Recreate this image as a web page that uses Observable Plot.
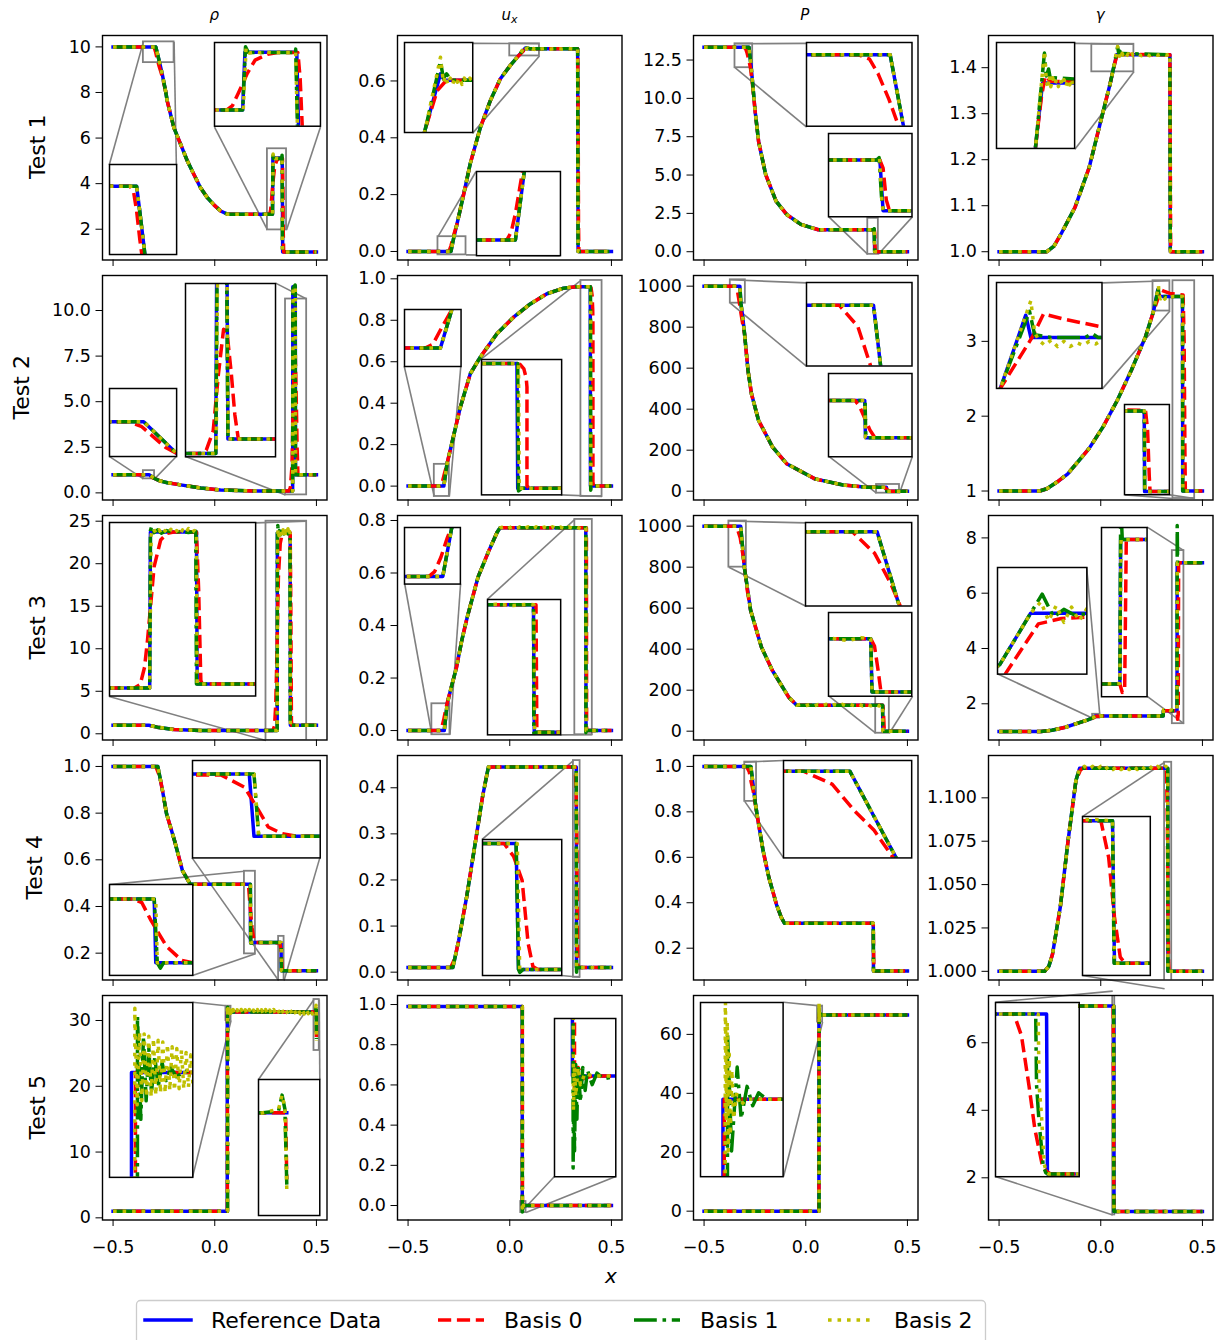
<!DOCTYPE html>
<html><head><meta charset="utf-8">
<script src="https://cdn.jsdelivr.net/npm/d3@7"></script>
<script src="https://cdn.jsdelivr.net/npm/@observablehq/plot@0.6"></script>
<style>
body{margin:0;background:#fff;}
#fig{position:relative;width:1231px;height:1340px;overflow:hidden;background:#fff;font-family:"DejaVu Sans";}
#fig svg{position:absolute;}
</style></head><body><div id="fig"></div>
<script>
// ---------------- DATA (x, value) ----------------
const seriesNames = ["Reference Data","Basis 0","Basis 1","Basis 2"];
const colTitles = ["ρ","u","P","γ"];
const rowTitles = ["Test 1","Test 2","Test 3","Test 4","Test 5"];
const xTicks = [-0.5, 0, 0.5];

// Test 1
const t1_rho_head = [[-0.5,10],[-0.29,10],[-0.283,9.75],[-0.275,9.45],[-0.258,8.8]];
const t1_rho_fan = [[-0.242,8.07],[-0.233,7.6],[-0.201,6.46],[-0.168,5.73],[-0.135,5.0],[-0.103,4.41],[-0.07,3.82],[-0.037,3.39],[-0.004,3.07],[0.029,2.8],[0.062,2.66]];
const t1_rho_ref = [...t1_rho_head, ...t1_rho_fan, [0.284,2.66],[0.286,5.12],[0.332,5.12],[0.334,1],[0.5,1]];
const t1_rho_b0 = [[-0.5,10],[-0.305,10],[-0.297,9.95],[-0.29,9.75],[-0.283,9.47],[-0.275,9.2],[-0.258,8.7], ...t1_rho_fan, [0.27,2.66],[0.275,2.85],[0.28,3.36],[0.288,4.21],[0.295,4.78],[0.306,5.03],[0.315,5.1],[0.333,5.1],[0.335,4.0],[0.337,1.8],[0.339,1],[0.5,1]];
const t1_rho_b1 = [...t1_rho_head, ...t1_rho_fan, [0.284,2.66],[0.2865,5.35],[0.289,5.1],[0.33,5.1],[0.331,5.25],[0.333,1],[0.5,1]];
const t1_rho_b2 = [...t1_rho_head, ...t1_rho_fan, [0.2845,2.66],[0.287,5.3],[0.29,5.08],[0.295,5.13],[0.3,5.09],[0.305,5.12],[0.31,5.1],[0.331,5.1],[0.333,1],[0.5,1]];

const t1_ux_head = [[-0.5,0],[-0.289,0],[-0.275,0.05]];
const t1_ux_fan = [[-0.26,0.095],[-0.227,0.2],[-0.194,0.31],[-0.145,0.435],[-0.096,0.53],[-0.046,0.608],[0.003,0.655],[0.045,0.69]];
const t1_ux_ref = [...t1_ux_head, ...t1_ux_fan, [0.077,0.716],[0.085,0.713],[0.334,0.713],[0.336,0],[0.5,0]];
const t1_ux_b0 = [[-0.5,0],[-0.303,0],[-0.296,0.006],[-0.289,0.02],[-0.281,0.042],[-0.273,0.064], ...t1_ux_fan, [0.07,0.708],[0.09,0.713],[0.334,0.713],[0.336,0.6],[0.338,0.1],[0.34,0],[0.5,0]];
const t1_ux_b1 = [...t1_ux_head, ...t1_ux_fan, [0.077,0.722],[0.083,0.714],[0.09,0.716],[0.1,0.713],[0.334,0.713],[0.336,0],[0.5,0]];
const t1_ux_b2 = [...t1_ux_head, ...t1_ux_fan, [0.077,0.724],[0.083,0.712],[0.088,0.715],[0.093,0.711],[0.098,0.714],[0.103,0.711],[0.108,0.714],[0.113,0.712],[0.118,0.714],[0.123,0.711],[0.128,0.714],[0.133,0.712],[0.14,0.714],[0.146,0.712],[0.17,0.714],[0.2,0.712],[0.23,0.714],[0.26,0.712],[0.29,0.714],[0.32,0.712],[0.334,0.713],[0.336,0],[0.5,0]];

const t1_P_head = [[-0.5,13.33],[-0.279,13.33],[-0.268,12.0]];
const t1_P_fan = [[-0.249,9.17],[-0.232,7.2],[-0.197,5.03],[-0.146,3.3],[-0.094,2.43],[-0.024,1.78],[0.062,1.43]];
const t1_P_ref = [...t1_P_head, ...t1_P_fan, [0.337,1.43],[0.339,0],[0.5,0]];
const t1_P_b0 = [[-0.5,13.33],[-0.305,13.33],[-0.296,13.25],[-0.289,12.98],[-0.28,12.5],[-0.272,12.0],[-0.262,10.9], ...t1_P_fan, [0.337,1.43],[0.339,1.2],[0.341,0.3],[0.343,0],[0.5,0]];
const t1_P_b1 = [...t1_P_head, ...t1_P_fan, [0.335,1.43],[0.3365,1.5],[0.338,0.4],[0.339,0],[0.5,0]];
const t1_P_b2 = [...t1_P_head, ...t1_P_fan, [0.335,1.43],[0.3368,1.48],[0.3382,0.3],[0.339,0],[0.5,0]];

const t1_g_head = [[-0.5,1],[-0.265,1]];
const t1_g_fan = [[-0.23,1.012],[-0.196,1.038],[-0.127,1.096],[-0.057,1.183],[0.012,1.305],[0.046,1.365],[0.06,1.393]];
const t1_g_ref = [...t1_g_head, ...t1_g_fan, [0.078,1.428],[0.34,1.428],[0.342,1],[0.5,1]];
const t1_g_b0 = [...t1_g_head, ...t1_g_fan, [0.075,1.42],[0.085,1.432],[0.1,1.429],[0.34,1.428],[0.342,1.2],[0.344,1],[0.5,1]];
const t1_g_b1 = [...t1_g_head, ...t1_g_fan, [0.083,1.445],[0.088,1.432],[0.094,1.436],[0.1,1.429],[0.11,1.431],[0.34,1.428],[0.342,1],[0.5,1]];
const t1_g_b2 = [...t1_g_head, ...t1_g_fan, [0.083,1.446],[0.088,1.43],[0.092,1.425],[0.096,1.432],[0.1,1.426],[0.105,1.431],[0.11,1.427],[0.115,1.43],[0.12,1.426],[0.125,1.43],[0.13,1.427],[0.135,1.43],[0.14,1.426],[0.145,1.43],[0.15,1.427],[0.155,1.43],[0.16,1.426],[0.18,1.43],[0.2,1.426],[0.22,1.43],[0.24,1.426],[0.26,1.43],[0.28,1.427],[0.3,1.43],[0.32,1.427],[0.34,1.43],[0.342,1],[0.5,1]];

// Test 2
const t2_rho_head = [[-0.5,1],[-0.323,1]];
const t2_rho_fan = [[-0.296,0.79],[-0.27,0.66],[-0.233,0.56],[-0.168,0.44],[-0.07,0.27],[0.028,0.16],[0.193,0.1],[0.357,0.1]];
const t2_rho_ref = [...t2_rho_head, ...t2_rho_fan, [0.383,0.1],[0.384,11.3],[0.396,11.3],[0.397,1],[0.5,1]];
const t2_rho_b0 = [[-0.5,1],[-0.335,1],[-0.325,0.97],[-0.315,0.9],[-0.305,0.83], ...t2_rho_fan, [0.365,0.1],[0.372,0.3],[0.38,1.5],[0.386,5],[0.392,7.8],[0.396,7.6],[0.401,5],[0.405,2.5],[0.409,1],[0.5,1]];
const t2_rho_b1 = [...t2_rho_head, ...t2_rho_fan, [0.383,0.1],[0.3845,11.2],[0.3955,11.4],[0.397,1],[0.5,1]];
const t2_rho_b2 = [...t2_rho_head, ...t2_rho_fan, [0.3835,0.1],[0.385,11.3],[0.396,11.25],[0.3975,1],[0.5,1]];

const t2_ux_head = [[-0.5,0],[-0.324,0]];
const t2_ux_fan = [[-0.309,0.105],[-0.284,0.21],[-0.243,0.381],[-0.194,0.542],[-0.145,0.622],[-0.063,0.735],[0.019,0.815],[0.101,0.879],[0.183,0.928],[0.265,0.955],[0.33,0.962]];
const t2_ux_ref = [...t2_ux_head, ...t2_ux_fan, [0.396,0.962],[0.397,0],[0.5,0]];
const t2_ux_b0 = [[-0.5,0],[-0.344,0],[-0.334,0.01],[-0.322,0.057], ...t2_ux_fan, [0.396,0.962],[0.4,0.955],[0.405,0.92],[0.408,0.85],[0.409,0.78],[0.409,0.02],[0.412,0],[0.5,0]];
const t2_ux_b1 = [...t2_ux_head, ...t2_ux_fan, [0.397,0.962],[0.398,-0.02],[0.402,0],[0.5,0]];
const t2_ux_b2 = [...t2_ux_head, ...t2_ux_fan, [0.398,0.962],[0.399,0],[0.5,0]];

const t2_P_head = [[-0.5,1000],[-0.324,1000],[-0.319,917],[-0.31,850]];
const t2_P_fan = [[-0.301,768],[-0.284,589],[-0.267,475],[-0.232,345],[-0.163,215],[-0.094,134],[0.045,60],[0.184,30],[0.3,19]];
const t2_P_ref = [...t2_P_head, ...t2_P_fan, [0.397,19],[0.398,0.01],[0.5,0.01]];
const t2_P_b0 = [[-0.5,1000],[-0.348,1000],[-0.335,971],[-0.326,917],[-0.317,858],[-0.309,810], ...t2_P_fan, [0.384,19],[0.39,16],[0.397,10],[0.404,4],[0.41,0.5],[0.415,0.01],[0.5,0.01]];
const t2_P_b1 = [...t2_P_head, ...t2_P_fan, [0.3975,19],[0.3985,0.01],[0.5,0.01]];
const t2_P_b2 = [...t2_P_head, ...t2_P_fan, [0.397,19],[0.398,0.01],[0.5,0.01]];

const t2_g_head = [[-0.5,1],[-0.3,1]];
const t2_g_fan = [[-0.265,1.03],[-0.215,1.12],[-0.162,1.23],[-0.057,1.57],[0.012,1.86],[0.081,2.21],[0.15,2.61],[0.22,3.06],[0.26,3.405]];
const t2_g_ref = [...t2_g_head, ...t2_g_fan, [0.28,3.685],[0.284,3.6],[0.402,3.6],[0.403,1],[0.5,1]];
const t2_g_b0 = [...t2_g_head, ...t2_g_fan, [0.285,3.6],[0.294,3.69],[0.31,3.67],[0.34,3.64],[0.405,3.62],[0.41,3.0],[0.414,1.5],[0.416,1],[0.5,1]];
const t2_g_b1 = [...t2_g_head, ...t2_g_fan, [0.283,3.7],[0.287,3.61],[0.3,3.6],[0.327,3.6],[0.332,3.615],[0.337,3.6],[0.402,3.6],[0.403,1],[0.5,1]];
const t2_g_b2 = [...t2_g_head, ...t2_g_fan, [0.284,3.74],[0.287,3.62],[0.29,3.59],[0.295,3.57],[0.3,3.59],[0.305,3.565],[0.31,3.585],[0.315,3.565],[0.32,3.58],[0.325,3.57],[0.33,3.585],[0.335,3.575],[0.34,3.59],[0.36,3.6],[0.403,3.6],[0.404,1],[0.5,1]];

// Test 3
const t3_rho_head = [[-0.5,1],[-0.324,1]];
const t3_rho_fan = [[-0.283,0.78],[-0.2,0.5],[-0.07,0.4]];
const t3_rho_ref = [...t3_rho_head, ...t3_rho_fan, [0.307,0.4],[0.308,23.6],[0.371,23.6],[0.372,1],[0.5,1]];
const t3_rho_b0 = [...t3_rho_head, ...t3_rho_fan, [0.286,0.4],[0.294,0.9],[0.3,3.5],[0.304,7.5],[0.309,13.5],[0.313,18.4],[0.322,22.4],[0.331,23.4],[0.34,23.6],[0.371,23.6],[0.374,15],[0.377,1.5],[0.379,1],[0.5,1]];
const t3_rho_b1 = [...t3_rho_head, ...t3_rho_fan, [0.307,0.4],[0.308,23.8],[0.31,24.5],[0.313,23.5],[0.318,23.9],[0.323,23.4],[0.33,23.8],[0.34,23.5],[0.35,23.7],[0.36,23.5],[0.37,23.7],[0.371,1],[0.5,1]];
const t3_rho_b2 = [...t3_rho_head, ...t3_rho_fan, [0.307,0.4],[0.309,23.2],[0.312,24.1],[0.316,23.3],[0.32,23.9],[0.324,23.2],[0.328,23.8],[0.332,23.3],[0.336,24.0],[0.34,23.4],[0.344,23.8],[0.348,23.2],[0.352,23.9],[0.356,23.4],[0.36,24.1],[0.364,23.5],[0.368,23.8],[0.371,23.5],[0.372,1],[0.5,1]];

const t3_ux_head = [[-0.5,0],[-0.322,0],[-0.308,0.1]];
const t3_ux_fan = [[-0.289,0.16],[-0.262,0.24],[-0.236,0.343],[-0.209,0.432],[-0.156,0.584],[-0.102,0.686],[-0.062,0.755],[-0.048,0.772]];
const t3_ux_ref = [...t3_ux_head, ...t3_ux_fan, [0.374,0.772],[0.375,0],[0.5,0]];
const t3_ux_b0 = [[-0.5,0],[-0.344,0],[-0.335,0.01],[-0.325,0.04],[-0.315,0.08],[-0.303,0.12], ...t3_ux_fan, [0.377,0.772],[0.378,0],[0.5,0]];
const t3_ux_b1 = [...t3_ux_head, ...t3_ux_fan, [0.374,0.772],[0.3745,-0.008],[0.377,0],[0.5,0]];
const t3_ux_b2 = [...t3_ux_head, ...t3_ux_fan, [-0.03,0.776],[-0.01,0.769],[0.01,0.776],[0.03,0.768],[0.05,0.776],[0.07,0.769],[0.09,0.776],[0.11,0.768],[0.13,0.776],[0.15,0.769],[0.17,0.775],[0.19,0.768],[0.21,0.776],[0.23,0.769],[0.25,0.775],[0.27,0.768],[0.29,0.776],[0.31,0.769],[0.33,0.775],[0.35,0.768],[0.37,0.775],[0.3745,0.772],[0.3755,0],[0.5,0]];

const t3_P_head = [[-0.5,1000],[-0.32,1000],[-0.302,800]];
const t3_P_fan = [[-0.271,589],[-0.218,410],[-0.164,296],[-0.084,166],[-0.044,127]];
const t3_P_ref = [...t3_P_head, ...t3_P_fan, [0.378,127],[0.379,0],[0.5,0]];
const t3_P_b0 = [[-0.5,1000],[-0.34,1000],[-0.322,942],[-0.309,861],[-0.3,790],[-0.288,690], ...t3_P_fan, [0.378,127],[0.381,110],[0.384,50],[0.386,5],[0.388,0],[0.5,0]];
const t3_P_b1 = [...t3_P_head, ...t3_P_fan, [0.378,127],[0.379,0],[0.5,0]];
const t3_P_b2 = [...t3_P_head, ...t3_P_fan, [-0.02,131],[0.0,124],[0.02,131],[0.04,123],[0.06,130],[0.08,124],[0.1,131],[0.12,123],[0.14,130],[0.16,124],[0.18,131],[0.2,123],[0.22,130],[0.24,124],[0.26,131],[0.28,123],[0.3,130],[0.32,124],[0.34,131],[0.36,123],[0.37,130],[0.378,127],[0.379,0],[0.5,0]];

const t3_g_head = [[-0.5,1],[-0.294,1]];
const t3_g_fan = [[-0.24,1.04],[-0.174,1.15],[-0.12,1.28],[-0.067,1.41]];
const t3_g_ref = [...t3_g_head, ...t3_g_fan, [-0.039,1.493],[-0.027,1.56],[0.307,1.56],[0.308,1.75],[0.375,1.75],[0.376,7.1],[0.5,7.1]];
const t3_g_b0 = [...t3_g_head, ...t3_g_fan, [-0.037,1.48],[-0.024,1.546],[-0.015,1.553],[0.0,1.556],[0.02,1.558],[0.307,1.56],[0.31,1.75],[0.375,1.75],[0.378,1.44],[0.381,1.6],[0.383,7.1],[0.5,7.1]];
const t3_g_b1 = [...t3_g_head, ...t3_g_fan, [-0.039,1.493],[-0.027,1.56],[-0.0225,1.585],[-0.018,1.555],[-0.014,1.565],[-0.01,1.558],[0.0,1.56],[0.307,1.56],[0.308,1.75],[0.375,1.75],[0.376,8.45],[0.378,7.1],[0.5,7.1]];
const t3_g_b2 = [...t3_g_head, ...t3_g_fan, [-0.039,1.493],[-0.027,1.56],[-0.023,1.575],[-0.02,1.55],[-0.017,1.57],[-0.014,1.548],[-0.011,1.568],[-0.008,1.55],[-0.005,1.566],[0.0,1.555],[0.307,1.56],[0.3085,1.78],[0.32,1.76],[0.33,1.79],[0.34,1.76],[0.35,1.78],[0.36,1.76],[0.375,1.77],[0.3765,7.1],[0.5,7.1]];

// Test 4
const t4_rho_head = [[-0.5,1],[-0.28,1]];
const t4_rho_fan = [[-0.257,0.897],[-0.237,0.797],[-0.198,0.683],[-0.159,0.554],[-0.12,0.495]];
const t4_rho_ref = [...t4_rho_head, ...t4_rho_fan, [0.175,0.495],[0.176,0.246],[0.326,0.246],[0.327,0.125],[0.5,0.125]];
const t4_rho_b0 = [[-0.5,1],[-0.29,1],[-0.27,0.955], ...t4_rho_fan, [0.161,0.495],[0.167,0.48],[0.173,0.41],[0.183,0.31],[0.193,0.255],[0.2,0.246],[0.32,0.244],[0.325,0.22],[0.328,0.175],[0.33,0.143],[0.333,0.13],[0.336,0.125],[0.5,0.125]];
const t4_rho_b1 = [...t4_rho_head, ...t4_rho_fan, [0.175,0.495],[0.177,0.246],[0.179,0.225],[0.181,0.246],[0.327,0.246],[0.328,0.125],[0.5,0.125]];
const t4_rho_b2 = [...t4_rho_head, ...t4_rho_fan, [0.176,0.495],[0.177,0.246],[0.327,0.246],[0.328,0.125],[0.5,0.125]];

const t4_ux_head = [[-0.5,0.01],[-0.28,0.01]];
const t4_ux_fan = [[-0.251,0.069],[-0.212,0.163],[-0.173,0.271],[-0.134,0.38]];
const t4_ux_ref = [...t4_ux_head, ...t4_ux_fan, [-0.105,0.445],[0.327,0.445],[0.328,0.01],[0.5,0.01]];
const t4_ux_b0 = [[-0.5,0.01],[-0.29,0.01],[-0.27,0.03], ...t4_ux_fan, [-0.11,0.435],[-0.095,0.445],[0.322,0.445],[0.326,0.4],[0.3295,0.318],[0.332,0.1],[0.334,0.02],[0.336,0.01],[0.5,0.01]];
const t4_ux_b1 = [...t4_ux_head, ...t4_ux_fan, [-0.105,0.445],[0.327,0.445],[0.328,0.01],[0.3285,0.0],[0.33,0.01],[0.5,0.01]];
const t4_ux_b2 = [...t4_ux_head, ...t4_ux_fan, [-0.105,0.445],[0.3275,0.445],[0.3285,0.01],[0.5,0.01]];

const t4_P_head = [[-0.5,1],[-0.27,1],[-0.258,0.912],[-0.249,0.846]];
const t4_P_fan = [[-0.238,0.78],[-0.21,0.63],[-0.181,0.51],[-0.143,0.39],[-0.12,0.335],[-0.105,0.31]];
const t4_P_ref = [...t4_P_head, ...t4_P_fan, [0.332,0.31],[0.333,0.1],[0.5,0.1]];
const t4_P_b0 = [[-0.5,1],[-0.291,1],[-0.278,0.977],[-0.268,0.93],[-0.259,0.895],[-0.251,0.85], ...t4_P_fan, [0.332,0.31],[0.3335,0.2],[0.335,0.1],[0.5,0.1]];
const t4_P_b1 = [...t4_P_head, ...t4_P_fan, [0.332,0.31],[0.333,0.1],[0.5,0.1]];
const t4_P_b2 = [...t4_P_head, ...t4_P_fan, [0.3322,0.31],[0.3332,0.1],[0.5,0.1]];

const t4_g_head = [[-0.5,1],[-0.276,1]];
const t4_g_fan = [[-0.255,1.003],[-0.237,1.01],[-0.199,1.037],[-0.161,1.075],[-0.122,1.11]];
const t4_g_ref = [...t4_g_head, ...t4_g_fan, [-0.104,1.117],[0.3295,1.117],[0.3305,1],[0.5,1]];
const t4_g_b0 = [...t4_g_head, ...t4_g_fan, [-0.1,1.116],[-0.09,1.117],[0.3235,1.117],[0.3275,1.087],[0.3305,1.038],[0.3335,1.005],[0.336,1],[0.5,1]];
const t4_g_b1 = [...t4_g_head, ...t4_g_fan, [-0.104,1.117],[0.3295,1.117],[0.3303,1],[0.5,1]];
const t4_g_b2 = [...t4_g_head, ...t4_g_fan, [-0.104,1.117],[-0.08,1.1182],[-0.06,1.1163],[-0.04,1.1182],[-0.02,1.1163],[0.0,1.1182],[0.02,1.1163],[0.04,1.1182],[0.06,1.1163],[0.08,1.1182],[0.1,1.1163],[0.12,1.1182],[0.14,1.1163],[0.16,1.1182],[0.18,1.1163],[0.2,1.1182],[0.22,1.1163],[0.24,1.1182],[0.26,1.1163],[0.28,1.1182],[0.3,1.1163],[0.32,1.1182],[0.3295,1.117],[0.3305,1],[0.5,1]];

// Test 5
const t5_rho_ref = [[-0.5,1],[0.0615,1],[0.0616,31.3],[0.5,31.3]];
const t5_rho_b0 = [[-0.5,1],[0.0622,1],[0.0628,31.3],[0.4995,31.3],[0.5,27.5]];
const t5_rho_b1 = [[-0.5,1],[0.0632,1],[0.0634,32.0],[0.0644,30.72],[0.0652,31.75],[0.066,30.95],[0.0668,31.6],[0.0676,31.05],[0.0686,31.5],[0.0696,31.12],[0.0708,31.42],[0.072,31.2],[0.0735,31.36],[0.075,31.25],[0.078,31.32],[0.08,31.3],[0.49,31.3],[0.4965,31.4],[0.498,32.3],[0.4992,31.5],[0.5,27.2]];
const t5_rho_b2 = [[-0.5,1],[0.0624,1],[0.0626,32.1],[0.0633,30.9],[0.064,31.8],[0.0647,30.95],[0.0654,31.78],[0.0661,31.0],[0.0668,31.75],[0.0675,31.0],[0.0682,31.72],[0.0689,31.02],[0.0696,31.7],[0.0703,31.05],[0.071,31.68],[0.0717,31.05],[0.0724,31.65],[0.0731,31.08],[0.0738,31.62],[0.0745,31.08],[0.0752,31.6],[0.0759,31.1],[0.0766,31.58],[0.0773,31.1],[0.078,31.55],[0.0787,31.12],[0.0794,31.52],[0.0801,31.12],
  [0.09,31.66],[0.1,31.0],[0.11,31.64],[0.12,30.98],[0.13,31.68],[0.14,31.0],[0.15,31.62],[0.16,30.97],[0.17,31.66],[0.18,31.02],[0.19,31.6],[0.2,30.98],[0.21,31.65],[0.22,31.0],[0.23,31.63],[0.24,30.97],[0.25,31.66],[0.26,31.01],[0.27,31.6],[0.28,30.99],[0.29,31.66],[0.3,31.02],[0.31,31.62],[0.32,30.98],[0.33,31.64],[0.34,31.0],[0.35,31.6],[0.36,30.97],[0.37,31.66],[0.38,31.02],[0.39,31.62],[0.4,30.99],[0.41,31.64],[0.42,31.01],[0.43,31.6],[0.44,30.98],[0.45,31.65],[0.46,31.02],[0.47,31.62],[0.48,31.0],[0.49,31.3],[0.4965,31.5],[0.498,32.3],[0.4992,31.6],[0.5,26.9]];

const t5_ux_ref = [[-0.5,0.99],[0.0615,0.99],[0.0616,0],[0.5,0]];
const t5_ux_b0 = [[-0.5,0.99],[0.062,0.99],[0.0625,-0.004],[0.064,0.003],[0.066,-0.001],[0.07,0],[0.5,0]];
const t5_ux_b1 = [[-0.5,0.99],[0.0617,0.99],[0.0619,-0.032],[0.0622,-0.005],[0.0625,-0.026],[0.063,0.004],[0.0635,-0.015],[0.064,0.004],[0.065,-0.009],[0.066,0.003],[0.067,-0.005],[0.068,0.002],[0.07,-0.003],[0.072,0.001],[0.075,-0.001],[0.08,0],[0.5,0]];
const t5_ux_b2 = [[-0.5,0.99],[0.0618,0.99],[0.062,-0.012],[0.0625,0.003],[0.063,-0.007],[0.064,0.003],[0.065,-0.003],[0.067,0.001],[0.07,0],[0.5,0]];

const t5_P_ref = [[-0.5,0],[0.0647,0],[0.0648,66.6],[0.5,66.6]];
const t5_P_b0 = [[-0.5,0],[0.065,0],[0.0652,66.6],[0.5,66.6]];
const t5_P_b1 = [[-0.5,0],[0.0655,0],[0.0662,68.6],[0.0674,65.0],[0.0691,67.6],[0.0703,66.0],[0.0721,67.0],[0.0738,66.4],[0.0756,66.8],[0.078,66.6],[0.5,66.6]];
const t5_P_b2 = [[-0.5,0],[0.0652,0],[0.0655,70.5],[0.0658,66.0],[0.0661,69.0],[0.0664,65.0],[0.0667,68.0],[0.067,65.5],[0.0675,67.5],[0.068,66.0],[0.069,66.8],[0.07,66.4],[0.072,66.6],[0.5,66.6]];

const t5_g_ref = [[-0.5,7.09],[0.065,7.09],[0.0651,1],[0.5,1]];
const t5_g_b0 = [[-0.5,7.09],[0.0611,7.09],[0.062,6.27],[0.0629,4.36],[0.0636,2.71],[0.0645,1.32],[0.065,1.1],[0.0655,1],[0.5,1]];
const t5_g_b1 = [[-0.5,7.09],[0.0637,7.09],[0.0638,4.4],[0.0641,3.0],[0.0646,1.32],[0.0649,1.05],[0.0652,1],[0.5,1]];
const t5_g_b2 = [[-0.5,7.09],[0.064,7.09],[0.0641,4.4],[0.0644,3.2],[0.0647,1.4],[0.065,1.05],[0.0653,1],[0.5,1]];

// y tick labels per panel
const t1_ticks = [[2,4,6,8,10],[0,0.2,0.4,0.6],[0,2.5,5,7.5,10,12.5],[1,1.1,1.2,1.3,1.4]];
const t2_ticks = [[0,2.5,5,7.5,10],[0,0.2,0.4,0.6,0.8,1],[0,200,400,600,800,1000],[1,2,3]];
const t3_ticks = [[0,5,10,15,20,25],[0,0.2,0.4,0.6,0.8],[0,200,400,600,800,1000],[2,4,6,8]];
const t4_ticks = [[0.2,0.4,0.6,0.8,1],[0,0.1,0.2,0.3,0.4],[0.2,0.4,0.6,0.8,1],[1,1.025,1.05,1.075,1.1]];
const t5_ticks = [[0,10,20,30],[0,0.2,0.4,0.6,0.8,1],[0,20,40,60],[2,4,6]];
const tickFmts = [["d",".1f",".1f",".1f"],[".1f",".1f","d","d"],["d",".1f","d","d"],[".1f",".1f",".1f",".3f"],["d",".1f","d","d"]];

// ---------------- LAYOUT ----------------
const COLS = [102, 397.3, 692.5, 988];
const ROWS = [34.5, 275, 515, 755, 995];
const S = 224.5;
const XDOM = [-0.552, 0.552];
const YDOMS = [
  [[0.65,10.5],[-0.03,0.76],[-0.54,14.1],[0.982,1.47]],
  [[-0.39,11.92],[-0.067,1.016],[-43,1052],[0.88,3.88]],
  [[-0.73,25.67],[-0.036,0.819],[-43,1052],[0.69,8.81]],
  [[0.085,1.047],[-0.017,0.47],[0.06,1.048],[0.995,1.1244]],
  [[-0.33,33.8],[-0.072,1.045],[-3,73.2],[0.75,7.4]]
];
// insets: box in axes fraction [x0,y0,x1,y1], zoom ranges, connected corners
const INSETS = [
  [
    [{box:[0.499,0.592,0.971,0.965],xr:[0.259,0.353],yr:[1.97,5.53],link:["ll","lr"]},
     {box:[0.03,0.022,0.329,0.423],xr:[-0.351,-0.2],yr:[9.31,10.22],link:["ul","ur"]}],
    [{box:[0.03,0.564,0.334,0.965],xr:[0.0,0.146],yr:[0.688,0.731],link:["ur","lr"]},
     {box:[0.349,0.018,0.723,0.393],xr:[-0.353,-0.215],yr:[-0.012,0.052],link:["ul","lr"]}],
    [{box:[0.504,0.592,0.974,0.965],xr:[-0.348,-0.261],yr:[12.0,13.56],link:["ul","ll"]},
     {box:[0.603,0.192,0.975,0.563],xr:[0.305,0.357],yr:[-0.17,2.18],link:["ll","lr"]}],
    [{box:[0.037,0.493,0.385,0.965],xr:[-0.044,0.163],yr:[1.391,1.451],link:["ur","lr"]}]
  ],
  [
    [{box:[0.03,0.194,0.329,0.497],xr:[-0.351,-0.296],yr:[0.77,1.22],link:["ll","lr"]},
     {box:[0.37,0.194,0.771,0.966],xr:[0.348,0.452],yr:[-0.11,10.63],link:["ur","ll"]}],
    [{box:[0.03,0.595,0.282,0.849],xr:[-0.371,-0.297],yr:[-0.05,0.105],link:["ll","lr"]},
     {box:[0.371,0.023,0.728,0.626],xr:[0.35,0.454],yr:[-0.05,0.992],link:["ul","lr"]}],
    [{box:[0.504,0.595,0.974,0.967],xr:[-0.371,-0.297],yr:[917,1031],link:["ul","ll"]},
     {box:[0.603,0.194,0.975,0.565],xr:[0.348,0.461],yr:[-9.7,32.7],link:["ll","lr"]}],
    [{box:[0.037,0.495,0.507,0.967],xr:[0.257,0.34],yr:[3.405,3.81],link:["ur","lr"]},
     {box:[0.608,0.023,0.808,0.425],xr:[0.355,0.462],yr:[0.9,3.81],link:["ll","lr"]}]
  ],
  [
    [{box:[0.03,0.194,0.681,0.967],xr:[0.252,0.452],yr:[-0.8,25.0],link:["ur","ll"]}],
    [{box:[0.032,0.696,0.281,0.948],xr:[-0.383,-0.294],yr:[-0.016,0.102],link:["ll","lr"]},
     {box:[0.4,0.023,0.726,0.626],xr:[0.32,0.406],yr:[-0.016,0.804],link:["ul","lr"]}],
    [{box:[0.503,0.595,0.976,0.967],xr:[-0.378,-0.292],yr:[800,1025],link:["ul","ll"]},
     {box:[0.605,0.194,0.976,0.567],xr:[0.344,0.411],yr:[-10,190],link:["ll","lr"]}],
    [{box:[0.039,0.295,0.437,0.77],xr:[-0.04,-0.005],yr:[1.48,1.62],link:["ll","ur"]},
     {box:[0.504,0.194,0.707,0.948],xr:[0.352,0.409],yr:[1.28,7.54],link:["ur","lr"]}]
  ],
  [
    [{box:[0.399,0.544,0.968,0.978],xr:[0.314,0.341],yr:[0.083,0.272],link:["ll","lr"]},
     {box:[0.03,0.02,0.401,0.425],xr:[0.146,0.2],yr:[0.197,0.551],link:["ul","lr"]}],
    [{box:[0.377,0.02,0.73,0.626],xr:[0.313,0.346],yr:[-0.011,0.459],link:["ul","lr"]}],
    [{box:[0.401,0.544,0.972,0.978],xr:[-0.3,-0.242],yr:[0.846,1.019],link:["ul","ll"]}],
    [{box:[0.418,0.02,0.72,0.728],xr:[0.314,0.349],yr:[0.99,1.1205],link:["ul","ll"]}]
  ],
  [
    [{box:[0.03,0.191,0.401,0.97],xr:[0.055,0.08],yr:[30.0,32.17],link:["ur","lr"]},
     {box:[0.695,0.02,0.968,0.626],xr:[0.488,0.514],yr:[25.44,33.19],link:["ul","ur"]}],
    [{box:[0.699,0.194,0.972,0.899],xr:[0.054,0.08],yr:[-0.035,0.02],link:["ll","lr"]}],
    [{box:[0.033,0.194,0.401,0.97],xr:[0.058,0.083],yr:[64.2,69.6],link:["ur","lr"]}],
    [{box:[0.03,0.194,0.403,0.97],xr:[0.0589,0.0689],yr:[0.9,7.53],link:["ul","ll"]}]
  ]
];

const SERIES = [
  [[t1_rho_ref,t1_rho_b0,t1_rho_b1,t1_rho_b2],[t1_ux_ref,t1_ux_b0,t1_ux_b1,t1_ux_b2],[t1_P_ref,t1_P_b0,t1_P_b1,t1_P_b2],[t1_g_ref,t1_g_b0,t1_g_b1,t1_g_b2]],
  [[t2_rho_ref,t2_rho_b0,t2_rho_b1,t2_rho_b2],[t2_ux_ref,t2_ux_b0,t2_ux_b1,t2_ux_b2],[t2_P_ref,t2_P_b0,t2_P_b1,t2_P_b2],[t2_g_ref,t2_g_b0,t2_g_b1,t2_g_b2]],
  [[t3_rho_ref,t3_rho_b0,t3_rho_b1,t3_rho_b2],[t3_ux_ref,t3_ux_b0,t3_ux_b1,t3_ux_b2],[t3_P_ref,t3_P_b0,t3_P_b1,t3_P_b2],[t3_g_ref,t3_g_b0,t3_g_b1,t3_g_b2]],
  [[t4_rho_ref,t4_rho_b0,t4_rho_b1,t4_rho_b2],[t4_ux_ref,t4_ux_b0,t4_ux_b1,t4_ux_b2],[t4_P_ref,t4_P_b0,t4_P_b1,t4_P_b2],[t4_g_ref,t4_g_b0,t4_g_b1,t4_g_b2]],
  [[t5_rho_ref,t5_rho_b0,t5_rho_b1,t5_rho_b2],[t5_ux_ref,t5_ux_b0,t5_ux_b1,t5_ux_b2],[t5_P_ref,t5_P_b0,t5_P_b1,t5_P_b2],[t5_g_ref,t5_g_b0,t5_g_b1,t5_g_b2]]
];
const TICKS = [t1_ticks,t2_ticks,t3_ticks,t4_ticks,t5_ticks];

const STYLES = [
  {stroke:"#0000ff", strokeLinecap:"square"},
  {stroke:"#ff0000", strokeDasharray:"13.2,5.7", strokeLinecap:"butt"},
  {stroke:"#008000", strokeDasharray:"22.8,5.7,3.6,5.7", strokeLinecap:"butt"},
  {stroke:"#bfbf00", strokeDasharray:"3.6,5.9", strokeLinecap:"butt"}
];
const LW = 3.5;
function lineMarks(series, clip) {
  return series.map((d, i) => Plot.line(d, {x: p => p[0], y: p => p[1], strokeWidth: LW, strokeLinejoin: "round", ...STYLES[i], clip}));
}

const fig = document.getElementById("fig");
const ML = 70, MR = 10, MT = 10, MB = 45;
const GRAY = "#808080";

for (let r = 0; r < 5; r++) {
  for (let c = 0; c < 4; c++) {
    const L = COLS[c], T = ROWS[r];
    const yd = YDOMS[r][c];
    const fx = f => XDOM[0] + f * (XDOM[1] - XDOM[0]);
    const fy = f => yd[0] + f * (yd[1] - yd[0]);
    const rects = [], links = [];
    INSETS[r][c].forEach(q => {
      const rc = {ul:[q.xr[0],q.yr[1]], ur:[q.xr[1],q.yr[1]], ll:[q.xr[0],q.yr[0]], lr:[q.xr[1],q.yr[0]]};
      const ic = {ul:[fx(q.box[0]),fy(q.box[3])], ur:[fx(q.box[2]),fy(q.box[3])], ll:[fx(q.box[0]),fy(q.box[1])], lr:[fx(q.box[2]),fy(q.box[1])]};
      rects.push({x1:q.xr[0], x2:q.xr[1], y1:q.yr[0], y2:q.yr[1]});
      q.link.forEach(k => links.push({x1:rc[k][0], y1:rc[k][1], x2:ic[k][0], y2:ic[k][1]}));
    });
    const svg = Plot.plot({
      width: S + ML + MR, height: S + MT + MB,
      marginLeft: ML, marginRight: MR, marginTop: MT, marginBottom: MB,
      style: {background: "transparent", overflow: "visible", fontFamily: "DejaVu Sans", fontSize: "17.5px", color: "black"},
      x: {domain: XDOM, ticks: xTicks, tickSize: 6.5, tickPadding: 14, label: null,
          tickFormat: r === 4 ? d3.format(".1f") : () => ""},
      y: {domain: yd, ticks: TICKS[r][c], tickSize: 6.5, tickPadding: 5, label: null,
          tickFormat: d3.format(tickFmts[r][c])},
      marks: [
        Plot.link(links, {x1: "x1", y1: "y1", x2: "x2", y2: "y2", stroke: GRAY, strokeWidth: 1.6}),
        Plot.rect(rects, {x1: "x1", x2: "x2", y1: "y1", y2: "y2", fill: "none", stroke: GRAY, strokeWidth: 1.8, clip: true}),
        ...lineMarks(SERIES[r][c], false),
        Plot.frame({stroke: "black", strokeWidth: 1.4})
      ]
    });
    svg.style.position = "absolute";
    svg.style.left = (L - ML) + "px";
    svg.style.top = (T - MT) + "px";
    fig.appendChild(svg);

    INSETS[r][c].forEach(q => {
      const w = (q.box[2] - q.box[0]) * S, h = (q.box[3] - q.box[1]) * S;
      const isvg = Plot.plot({
        width: w, height: h, margin: 0,
        style: {background: "white", overflow: "visible"},
        x: {domain: q.xr, axis: null}, y: {domain: q.yr, axis: null},
        marks: [...lineMarks(SERIES[r][c], true), Plot.frame({stroke: "black", strokeWidth: 1.5})]
      });
      isvg.style.position = "absolute";
      isvg.style.left = (L + q.box[0] * S) + "px";
      isvg.style.top = (T + (1 - q.box[3]) * S) + "px";
      fig.appendChild(isvg);
    });
  }
}

// ---------------- titles, labels, legend ----------------
const ov = d3.select(fig).append("svg")
  .attr("width", 1231).attr("height", 1340)
  .style("left", "0px").style("top", "0px").style("overflow", "visible")
  .attr("font-family", "DejaVu Sans");

colTitles.forEach((t, c) => {
  const tx = ov.append("text").attr("x", COLS[c] + S / 2).attr("y", 20)
    .attr("text-anchor", "middle").attr("font-size", 15).attr("font-style", "italic").text(t);
  if (c === 1) tx.append("tspan").attr("font-size", 11).attr("dy", 3).text("x");
});
const rowLabelX = [37.5, 21, 37.5, 34, 37.5];
rowTitles.forEach((t, r) => {
  const cy = ROWS[r] + S / 2;
  ov.append("text").attr("transform", `translate(${rowLabelX[r]},${cy}) rotate(-90)`)
    .attr("text-anchor", "middle").attr("dominant-baseline", "central").attr("font-size", 22).text(t);
});
ov.append("text").attr("x", 611).attr("y", 1283).attr("text-anchor", "middle")
  .attr("font-size", 20).attr("font-style", "italic").text("x");

// legend
ov.append("rect").attr("x", 136.5).attr("y", 1300.5).attr("width", 849).attr("height", 70)
  .attr("rx", 4).attr("fill", "white").attr("stroke", "#cccccc").attr("stroke-width", 1.3);
const legX = [211, 504, 700, 894];
seriesNames.forEach((name, i) => {
  const hx = legX[i] - 66;
  const ln = ov.append("line").attr("x1", hx).attr("x2", hx + 46).attr("y1", 1320).attr("y2", 1320)
    .attr("stroke", STYLES[i].stroke).attr("stroke-width", LW)
    .attr("stroke-linecap", STYLES[i].strokeLinecap);
  if (STYLES[i].strokeDasharray) ln.attr("stroke-dasharray", STYLES[i].strokeDasharray);
  ov.append("text").attr("x", legX[i]).attr("y", 1327.5).attr("font-size", 22).text(name);
});
</script></body></html>
